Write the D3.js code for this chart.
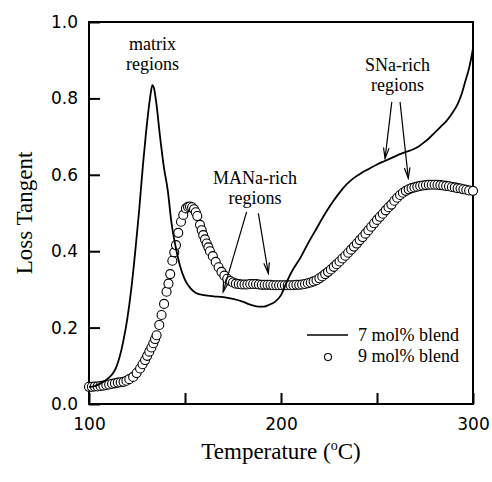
<!DOCTYPE html>
<html>
<head>
<meta charset="utf-8">
<script src="https://cdn.jsdelivr.net/npm/d3@7"></script>
<style>
  body { margin: 0; background: #fff; }
  svg { display: block; }
</style>
</head>
<body>
<svg width="492" height="482"></svg>
<script>
// Loss tangent vs temperature

// Axis ticks
const X_TICKS = [100, 150, 200, 250, 300];
const X_LABELS = [100, 200, 300];
const Y_TICKS = [0, 0.2, 0.4, 0.6, 0.8, 1.0];

// 7 mol% blend (solid line)
const temps7 = [100, 103, 106, 109, 112, 114, 116, 118, 120, 122,
    124, 126, 128, 129.5, 131, 132.2, 133, 133.8, 135, 137,
    139, 141, 143, 145, 147.5, 150, 153, 156, 160, 165,
    170, 175, 180, 184, 188, 191, 194, 197, 200, 203,
    206, 210, 214, 218, 222, 226, 230, 234, 238, 242,
    246, 250, 254, 258, 261, 263, 265, 268, 271, 274,
    277, 280, 283, 286, 289, 292, 294, 296, 298, 300];
const tan7 = [0.045, 0.047, 0.054, 0.063, 0.077, 0.094, 0.124, 0.168, 0.225, 0.300,
    0.395, 0.500, 0.620, 0.700, 0.770, 0.815, 0.835, 0.828, 0.790, 0.700,
    0.620, 0.560, 0.473, 0.415, 0.360, 0.325, 0.302, 0.290, 0.285, 0.282,
    0.280, 0.275, 0.268, 0.260, 0.255, 0.255, 0.260, 0.268, 0.285, 0.320,
    0.350, 0.382, 0.420, 0.455, 0.490, 0.522, 0.550, 0.574, 0.592, 0.605,
    0.616, 0.627, 0.636, 0.645, 0.652, 0.656, 0.660, 0.665, 0.672, 0.683,
    0.695, 0.710, 0.725, 0.740, 0.760, 0.785, 0.810, 0.845, 0.880, 0.930];

// 9 mol% blend (open circles)
const temps9 = [100, 101.5, 103, 104.5, 106, 107.5, 109, 110.5, 112, 113.5,
    115, 116.5, 118, 119.5, 121, 123, 124.8, 126.6, 127.9, 129.2,
    130.3, 131.4, 132.5, 133.5, 134.4, 135.2, 136.6, 137.8, 139.1, 140.4,
    141.4, 142.3, 143.4, 144.4, 145.3, 146.5, 147.9, 149.1, 150.5, 151.6,
    152.6, 153.7, 154.7, 155.6, 156.4, 157.8, 158.7, 159.5, 160.4, 161.3,
    162.2, 163, 164.5, 166, 167.5, 169, 170.5, 172, 173.5, 175,
    176.5, 178, 179.5, 181, 182.5, 184, 185.5, 187, 188.5, 190,
    191.5, 193, 194.5, 196, 197.5, 199, 200.5, 202, 203.5, 205,
    206.5, 208, 209.5, 211, 212.5, 214, 215.5, 217, 218.5, 220,
    221.5, 223, 224.5, 226, 227.5, 229, 230.5, 232, 233.5, 235,
    236.5, 238, 239.5, 241, 242.5, 244, 245.5, 247, 248.5, 250,
    251.5, 253, 254.5, 256, 257.5, 259, 260.5, 262, 263.5, 265,
    266.5, 268, 269.5, 271, 272.5, 274, 275.5, 277, 278.5, 280,
    281.5, 283, 284.5, 286, 287.5, 289, 290.5, 292, 293.5, 295,
    296.5, 298, 300];
const tan9 = [0.045, 0.045, 0.046, 0.046, 0.047, 0.048, 0.050, 0.051, 0.053, 0.054,
    0.056, 0.057, 0.058, 0.061, 0.065, 0.071, 0.081, 0.093, 0.104, 0.115,
    0.126, 0.137, 0.148, 0.159, 0.170, 0.180, 0.207, 0.233, 0.262, 0.294,
    0.315, 0.340, 0.375, 0.397, 0.416, 0.448, 0.477, 0.495, 0.512, 0.516,
    0.517, 0.515, 0.510, 0.502, 0.492, 0.469, 0.455, 0.442, 0.431, 0.420,
    0.410, 0.400, 0.387, 0.372, 0.358, 0.346, 0.336, 0.328, 0.322, 0.318,
    0.315, 0.314, 0.313, 0.313, 0.313, 0.314, 0.314, 0.314, 0.313, 0.312,
    0.312, 0.312, 0.312, 0.311, 0.311, 0.311, 0.311, 0.311, 0.311, 0.311,
    0.311, 0.312, 0.312, 0.313, 0.314, 0.316, 0.318, 0.321, 0.324, 0.329,
    0.334, 0.340, 0.346, 0.352, 0.359, 0.366, 0.373, 0.381, 0.388, 0.396,
    0.404, 0.412, 0.420, 0.429, 0.437, 0.446, 0.455, 0.464, 0.473, 0.482,
    0.490, 0.498, 0.507, 0.515, 0.522, 0.532, 0.540, 0.547, 0.553, 0.558,
    0.562, 0.565, 0.567, 0.569, 0.571, 0.572, 0.573, 0.574, 0.574, 0.574,
    0.574, 0.573, 0.572, 0.571, 0.570, 0.568, 0.567, 0.565, 0.564, 0.562,
    0.561, 0.559, 0.558];

// Annotations (data units): label lines and arrows [fromT, fromV, toT, toV]
const NOTES = [
    { lines: ["matrix", "regions"], t: 133.1, v: [0.927, 0.874], arrows: [] },
    { lines: ["MANa-rich", "regions"], t: 186.5, v: [0.576, 0.524],
      arrows: [[182.1, 0.503, 169.9, 0.294], [188.2, 0.499, 193.4, 0.342]] },
    { lines: ["SNa-rich", "regions"], t: 260.7, v: [0.873, 0.820],
      arrows: [[257.7, 0.791, 254.2, 0.643], [262.0, 0.791, 266.3, 0.591]] }
];
const LEGEND = ["7 mol% blend", "9 mol% blend"];

// Chart constants
const svg = d3.select("svg");
const margin = { top: 22, right: 19, bottom: 78, left: 89 };
const W = 492, H = 482;
const SANS = "'DejaVu Sans', sans-serif";
const SERIF = "'Liberation Serif', 'Times New Roman', serif";

const x = d3.scaleLinear().domain([100, 300]).range([margin.left, W - margin.right]);
const y = d3.scaleLinear().domain([0, 1]).range([H - margin.bottom, margin.top]);

// Frame
svg.append("rect")
    .attr("x", x(100))
    .attr("y", y(1))
    .attr("width", x(300) - x(100))
    .attr("height", y(0) - y(1))
    .attr("fill", "none")
    .attr("stroke", "#000")
    .attr("stroke-width", 2);

// Axes, ticks pointing inward
const xAxis = svg.append("g")
    .attr("transform", `translate(0,${y(0)})`)
    .call(d3.axisBottom(x)
        .tickValues(X_TICKS)
        .tickSize(-11)
        .tickPadding(14)
        .tickFormat((d) => X_LABELS.includes(d) ? d : ""));

const yAxis = svg.append("g")
    .attr("transform", `translate(${x(100)},0)`)
    .call(d3.axisLeft(y)
        .tickValues(Y_TICKS)
        .tickSize(-11)
        .tickPadding(11)
        .tickFormat(d3.format(".1f")));

[xAxis, yAxis].forEach((g) => {
    g.select(".domain").remove();
    g.selectAll(".tick line").attr("stroke", "#000").attr("stroke-width", 2);
    g.selectAll(".tick text")
        .attr("fill", "#000")
        .style("font-family", SANS)
        .style("font-size", "17px");
});

// 9 mol% blend circles
const blend9 = temps9.map((t, i) => ({ t: t, v: tan9[i] }));
svg.append("g")
    .selectAll("circle")
    .data(blend9)
    .enter()
    .append("circle")
    .attr("cx", (d) => x(d.t))
    .attr("cy", (d) => y(d.v))
    .attr("r", 4.5)
    .attr("fill", "#fff")
    .attr("stroke", "#000")
    .attr("stroke-width", 1.1);

// 7 mol% blend line
const blend7 = temps7.map((t, i) => ({ t: t, v: tan7[i] }));
const line = d3.line()
    .x((d) => x(d.t))
    .y((d) => y(d.v))
    .curve(d3.curveMonotoneX);

svg.append("path")
    .datum(blend7)
    .attr("d", line)
    .attr("fill", "none")
    .attr("stroke", "#000")
    .attr("stroke-width", 1.8)
    .attr("stroke-linejoin", "round");

// Annotation labels and arrows
function arrow(g, x1, y1, x2, y2) {
    const ang = Math.atan2(y2 - y1, x2 - x1);
    const len = 11, spread = 0.26;
    g.append("line")
        .attr("x1", x1).attr("y1", y1).attr("x2", x2).attr("y2", y2);
    g.append("path")
        .attr("d", `M${x2 - len * Math.cos(ang - spread)},${y2 - len * Math.sin(ang - spread)}` +
            `L${x2},${y2}` +
            `L${x2 - len * Math.cos(ang + spread)},${y2 - len * Math.sin(ang + spread)}`);
}

const notes = svg.append("g")
    .attr("stroke", "#000")
    .attr("stroke-width", 1.2)
    .attr("fill", "none");

NOTES.forEach((n) => {
    n.lines.forEach((txt, i) => {
        svg.append("text")
            .attr("x", x(n.t))
            .attr("y", y(n.v[i]))
            .attr("text-anchor", "middle")
            .style("font-family", SERIF)
            .style("font-size", "18px")
            .text(txt);
    });
    n.arrows.forEach((a) => arrow(notes, x(a[0]), y(a[1]), x(a[2]), y(a[3])));
});

// Legend
const legend = svg.append("g")
    .attr("transform", `translate(${x(300) - 166},${y(0) - 69})`);

legend.append("line")
    .attr("x1", 0).attr("x2", 41)
    .attr("y1", 0).attr("y2", 0)
    .attr("stroke", "#000")
    .attr("stroke-width", 1.5);

legend.append("circle")
    .attr("cx", 21).attr("cy", 22)
    .attr("r", 3.5)
    .attr("fill", "#fff")
    .attr("stroke", "#000")
    .attr("stroke-width", 1.1);

legend.selectAll("text.lab")
    .data(LEGEND)
    .enter()
    .append("text")
    .attr("class", "lab")
    .attr("x", 51)
    .attr("y", (d, i) => 6 + i * 21)
    .style("font-family", SERIF)
    .style("font-size", "18px")
    .text((d) => d);

// Axis titles
const xTitle = svg.append("text")
    .attr("x", x(200))
    .attr("y", 459)
    .attr("text-anchor", "middle")
    .style("font-family", SERIF)
    .style("font-size", "23px");
xTitle.append("tspan").text("Temperature (");
xTitle.append("tspan").attr("dy", -9).style("font-size", "14px").text("o");
xTitle.append("tspan").attr("dy", 9).text("C)");

svg.append("text")
    .attr("transform", `translate(32,${(y(0) + y(1)) / 2}) rotate(-90)`)
    .attr("text-anchor", "middle")
    .style("font-family", SERIF)
    .style("font-size", "23px")
    .text("Loss Tangent");
</script>
</body>
</html>
